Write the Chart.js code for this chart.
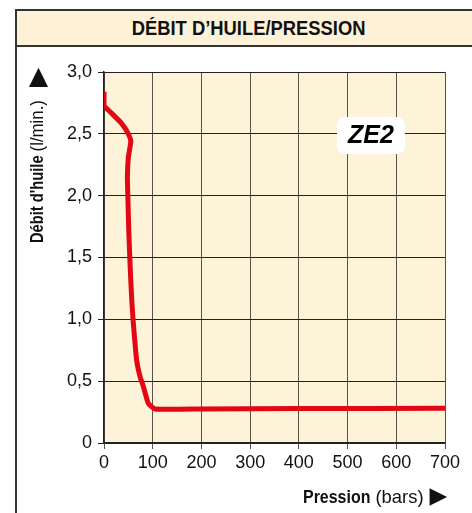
<!DOCTYPE html>
<html>
<head>
<meta charset="utf-8">
<script src="https://cdn.jsdelivr.net/npm/chart.js@4"></script>
<style>
  html, body { margin: 0; padding: 0; background: #fff; overflow: hidden; }
  #frame {
    position: absolute; left: 15px; top: 9px; width: 480px; height: 520px;
    border-left: 2px solid #333; border-top: 2px solid #333;
  }
  #titlebar {
    height: 34px; background: #fdf2d7; border-bottom: 2px solid #333;
    font: bold 21px "Liberation Sans", Arial, sans-serif;
    line-height: 34px; width: 463px; text-align: center; color: #111;
  }
  #titlebar span { display: inline-block; transform: scaleX(0.875); }
  #wrap { position: absolute; left: 0; top: 0; width: 472px; height: 513px; }
</style>
</head>
<body>
<div id="frame"><div id="titlebar"><span>DÉBIT D’HUILE/PRESSION</span></div></div>
<div id="wrap"><canvas id="chart" width="472" height="513"></canvas></div>
<script>
// courbe débit d'huile / pression, ZE2
const pressure = [0, 0, 12, 36, 50, 55, 50, 48, 49, 51, 54, 57, 60, 67, 74, 81, 91, 105, 200, 400, 700];
const flow = [2.84, 2.73, 2.68, 2.585, 2.50, 2.44, 2.31, 2.15, 1.99, 1.70, 1.40, 1.156, 0.98, 0.67, 0.536, 0.455, 0.32, 0.275, 0.275, 0.278, 0.28];
const xTicks = [0, 100, 200, 300, 400, 500, 600, 700];
const yTicks = [0, 0.5, 1.0, 1.5, 2.0, 2.5, 3.0];
const modelName = 'ZE2';
const modelPos = { x: 548, y: 2.49 };

const points = pressure.map((p, i) => ({ x: p, y: flow[i] }));

// texte condensé (Helvetica Condensed n'existe pas ici)
function drawText(ctx, txt, x, y, font, sx) {
  ctx.font = font;
  ctx.save();
  ctx.translate(x, y);
  ctx.scale(sx, 1);
  ctx.fillText(txt, 0, 0);
  ctx.restore();
  return ctx.measureText(txt).width * sx;
}

// fond beige de la zone du graphique
const bgPlugin = {
  id: 'bg',
  beforeDraw(chart) {
    const a = chart.chartArea, ctx = chart.ctx;
    ctx.save();
    ctx.fillStyle = '#fdf3d8';
    ctx.fillRect(a.left, a.top, a.right - a.left, a.bottom - a.top);
    ctx.restore();
  }
};

// titres des axes (gras + normal) et étiquette ZE2
const labelPlugin = {
  id: 'labels',
  afterDraw(chart) {
    const ctx = chart.ctx, a = chart.chartArea;
    ctx.save();
    ctx.fillStyle = '#111';
    ctx.textAlign = 'left';
    // axe Y
    ctx.translate(38, 243);
    ctx.rotate(-Math.PI / 2);
    ctx.textBaseline = 'middle';
    let x = 0;
    x += drawText(ctx, "Débit d'huile", x, 0, 'bold 17.5px "Liberation Sans", sans-serif', 0.84);
    x += 4;
    x += drawText(ctx, '(l/min.)', x, 0, '17.5px "Liberation Sans", sans-serif', 0.96);
    x += 13;
    drawText(ctx, '▶', x, 0, '25px "DejaVu Sans", sans-serif', 1);
    ctx.setTransform(1, 0, 0, 1, 0, 0);
    // axe X
    ctx.textBaseline = 'alphabetic';
    const base = 503;
    let rx = 303;
    rx += drawText(ctx, 'Pression', rx, base, 'bold 19px "Liberation Sans", sans-serif', 0.84);
    rx += 5;
    rx += drawText(ctx, '(bars)', rx, base, '19px "Liberation Sans", sans-serif', 0.97);
    rx += 6;
    drawText(ctx, '▶', rx, base, '23px "DejaVu Sans", sans-serif', 1);
    // étiquette du modèle
    const cx = chart.scales.x.getPixelForValue(modelPos.x);
    const cy = chart.scales.y.getPixelForValue(modelPos.y);
    ctx.fillStyle = '#fff';
    ctx.beginPath();
    ctx.roundRect(cx - 34, cy - 18, 68, 37, 8);
    ctx.fill();
    ctx.fillStyle = '#000';
    ctx.font = 'bold italic 25px "Liberation Sans", sans-serif';
    ctx.textAlign = 'center';
    ctx.textBaseline = 'middle';
    ctx.fillText(modelName, cx, cy + 1);
    ctx.restore();
  }
};

new Chart(document.getElementById('chart'), {
  type: 'line',
  data: {
    datasets: [{
      data: points,
      borderColor: '#e30613',
      borderWidth: 5,
      borderCapStyle: 'butt',
      borderJoinStyle: 'round',
      pointRadius: 0,
      tension: 0.15,
      fill: false
    }]
  },
  options: {
    responsive: false,
    animation: false,
    layout: { padding: { left: 48, top: 72, right: 27, bottom: 40 } },
    plugins: { legend: { display: false }, tooltip: { enabled: false } },
    scales: {
      x: {
        type: 'linear', min: 0, max: 700,
        afterBuildTicks: s => { s.ticks = xTicks.map(v => ({ value: v })); },
        afterFit: s => { s.height = 30; },
        grid: { color: '#5a5248', lineWidth: 1, tickLength: 6 },
        border: { color: '#222', width: 1.5 },
        ticks: { color: '#111', font: { family: 'Liberation Sans', size: 18 }, padding: 3, maxRotation: 0 }
      },
      y: {
        type: 'linear', min: 0, max: 3,
        afterBuildTicks: s => { s.ticks = yTicks.map(v => ({ value: v })); },
        afterFit: s => { s.width = 56; },
        grid: { color: '#222', lineWidth: 1, tickLength: 6 },
        border: { color: '#222', width: 1.5 },
        ticks: {
          color: '#111', font: { family: 'Liberation Sans', size: 18 }, padding: 6,
          callback: v => v === 0 ? '0' : v.toFixed(1).replace('.', ',')
        }
      }
    }
  },
  plugins: [bgPlugin, labelPlugin]
});
</script>
</body>
</html>
